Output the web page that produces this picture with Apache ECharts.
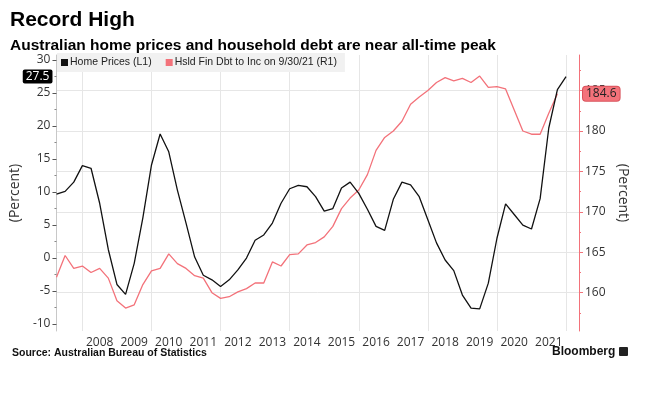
<!DOCTYPE html>
<html>
<head>
<meta charset="utf-8">
<script src="https://cdn.jsdelivr.net/npm/echarts@6/dist/echarts.min.js"></script>
<style>
html,body{margin:0;padding:0;background:#fff;}
#c{width:671px;height:393px;}
</style>
</head>
<body>
<div id="c"></div>
<script>
// ---- data ----
const quarters = [
 '2007Q1','2007Q2','2007Q3','2007Q4','2008Q1','2008Q2','2008Q3','2008Q4',
 '2009Q1','2009Q2','2009Q3','2009Q4','2010Q1','2010Q2','2010Q3','2010Q4',
 '2011Q1','2011Q2','2011Q3','2011Q4','2012Q1','2012Q2','2012Q3','2012Q4',
 '2013Q1','2013Q2','2013Q3','2013Q4','2014Q1','2014Q2','2014Q3','2014Q4',
 '2015Q1','2015Q2','2015Q3','2015Q4','2016Q1','2016Q2','2016Q3','2016Q4',
 '2017Q1','2017Q2','2017Q3','2017Q4','2018Q1','2018Q2','2018Q3','2018Q4',
 '2019Q1','2019Q2','2019Q3','2019Q4','2020Q1','2020Q2','2020Q3','2020Q4',
 '2021Q1','2021Q2','2021Q3','2021Q4'
];
const homePrices = [
 9.7,10.1,11.5,14.0,13.6,8.3,1.3,-4.0,-5.5,-0.8,6.1,14.1,18.8,16.1,10.3,5.3,
 0.15,-2.6,-3.3,-4.3,-3.3,-1.8,0.0,2.7,3.5,5.3,8.3,10.5,11.0,10.8,9.3,7.1,
 7.5,10.6,11.5,9.8,7.4,4.8,4.2,8.9,11.5,11.1,9.3,5.8,2.3,-0.3,-1.9,-5.6,
 -7.6,-7.7,-3.8,3.0,8.2,6.6,5.0,4.4,9.0,19.7,25.5,27.5
];
const debtToIncome = [
 161.9,164.6,163.0,163.3,162.5,163.0,161.8,159.0,158.1,158.5,161.0,162.7,163.0,164.8,163.6,163.0,
 162.1,161.8,160.0,159.3,159.5,160.1,160.5,161.2,161.2,163.8,163.3,164.7,164.8,165.9,166.2,166.9,
 168.2,170.4,171.7,172.7,174.6,177.6,179.2,180.0,181.2,183.3,184.2,185.0,186.0,186.6,186.2,186.5,
 186.0,186.8,185.4,185.5,185.2,182.6,180.0,179.6,179.6,182.2,184.6
];
const yearLabels = ['2008','2009','2010','2011','2012','2013','2014','2015','2016','2017','2018','2019','2020','2021'];
const gridYears = ['2007','2009','2011','2013','2015','2017','2019','2021'];
const leftTicks = [-10,-5,0,5,10,15,20,25,30];
const leftMinor = [-7.5,-2.5,2.5,7.5,12.5,17.5,22.5,27.5];
const rightTicks = [160,165,170,175,180,185];
const rightMinor = [157.5,162.5,167.5,172.5,177.5,182.5,187.5];

const seriesNames = ['Home Prices (L1)','Hsld Fin Dbt to Inc on 9/30/21 (R1)'];
const BLACK = '#111111', RED = '#f3727a';

const labelIdx = yearLabels.map(y => quarters.indexOf(y + 'Q2'));
const gridIdx = gridYears.map(y => quarters.indexOf(y + 'Q4'));
const lastHP = homePrices[homePrices.length - 1];
const lastDI = debtToIncome[debtToIncome.length - 1];

const FONT = "'Open Sans','Liberation Sans',sans-serif";
const chart = echarts.init(document.getElementById('c'), null, {renderer:'canvas'});
const xMax = quarters.length - 1 + 1.5;

chart.setOption({
  animation: false,
  backgroundColor: '#ffffff',
  textStyle: {fontFamily: FONT},
  title: {
    text: 'Record High',
    subtext: 'Australian home prices and household debt are near all-time peak',
    left: 10, top: 10, padding: 0, itemGap: 7,
    textStyle: {fontFamily: "'Liberation Sans',sans-serif", fontWeight: 'bold', fontSize: 21, color: '#000'},
    subtextStyle: {fontFamily: "'Liberation Sans',sans-serif", fontWeight: 'bold', fontSize: 15.5, color: '#000'}
  },
  legend: {
    left: 57, top: 53, padding: [4, 8, 4, 4],
    backgroundColor: '#f1f1f1',
    itemWidth: 7, itemHeight: 7, itemGap: 14,
    icon: 'rect',
    textStyle: {fontFamily: "'Liberation Sans',sans-serif", fontSize: 10.5, color: '#222', padding: [0,0,0,-3]},
    data: [{name: seriesNames[0], itemStyle: {color: BLACK}}, {name: seriesNames[1], itemStyle: {color: RED}}]
  },
  grid: {left: 56, right: 92, top: 55, bottom: 62, containLabel: false},
  xAxis: {
    type: 'value', min: 0, max: xMax,
    axisLine: {show: false},
    axisTick: {show: false, customValues: gridIdx},
    splitLine: {show: true, lineStyle: {color: '#e6e6e6', width: 1}},
    axisLabel: {customValues: labelIdx, formatter: v => quarters[v].slice(0,4), color: '#333', fontSize: 12, margin: 6}
  },
  yAxis: [
    {
      type: 'value', position: 'left', min: -11.05, max: 30.76,
      axisLine: {show: true, lineStyle: {color: '#c8c8c8'}},
      axisTick: {show: true, customValues: leftTicks, length: 4, lineStyle: {color: '#555'}},
      axisLabel: {customValues: leftTicks, color: '#333', fontSize: 12, margin: 6},
      splitLine: {show: false},
      name: '(Percent)', nameLocation: 'middle', nameGap: 23, nameRotate: 90,
      nameTextStyle: {fontSize: 14, color: '#333'},
      axisPointer: {show: true, type: 'line', value: lastHP, status: 'show', snap: false, triggerTooltip: false,
        lineStyle: {opacity: 0},
        label: {show: true, formatter: p => Number(p.value).toFixed(1), backgroundColor: '#000', color: '#fff', fontSize: 12, padding: [1, 3, 1, 3], margin: 4, borderRadius: 2}
      }
    },
    {
      type: 'value', position: 'right', min: 155.26, max: 189.40,
      axisLine: {show: true, lineStyle: {color: RED}},
      axisTick: {show: true, customValues: rightTicks, length: 4, lineStyle: {color: RED}},
      axisLabel: {customValues: rightTicks, color: '#333', fontSize: 12, margin: 6},
      splitLine: {show: true, lineStyle: {color: '#e6e6e6'}},
      name: '(Percent)', nameLocation: 'middle', nameGap: 36, nameRotate: -90,
      nameTextStyle: {fontSize: 14, color: '#333'},
      axisPointer: {show: true, type: 'line', value: lastDI, status: 'show', snap: false, triggerTooltip: false,
        lineStyle: {opacity: 0},
        label: {show: true, formatter: p => Number(p.value).toFixed(1), backgroundColor: RED, borderColor: '#d9525b', borderWidth: 1, color: '#222', fontSize: 12, padding: [1, 3, 1, 3], margin: 4}
      }
    },
    {
      type: 'value', position: 'left', min: -11.05, max: 30.76,
      axisLine: {show: false}, axisLabel: {show: false}, splitLine: {show: false},
      axisTick: {show: true, customValues: leftMinor, length: 2, lineStyle: {color: '#888'}}
    },
    {
      type: 'value', position: 'right', min: 155.26, max: 189.40,
      axisLine: {show: false}, axisLabel: {show: false}, splitLine: {show: false},
      axisTick: {show: true, customValues: rightMinor, length: 2, lineStyle: {color: RED}}
    }
  ],
  series: [
    {
      name: seriesNames[0], type: 'line', yAxisIndex: 0, symbol: 'none',
      lineStyle: {color: BLACK, width: 1.3}, itemStyle: {color: BLACK}, z: 3,
      data: homePrices.map((v, i) => [i, v])
    },
    {
      name: seriesNames[1], type: 'line', yAxisIndex: 1, symbol: 'none',
      lineStyle: {color: RED, width: 1.3}, itemStyle: {color: RED}, z: 2,
      data: debtToIncome.map((v, i) => [i, v])
    }
  ],
  graphic: [
    {type: 'text', left: 12, top: 348, style: {text: 'Source: Australian Bureau of Statistics', font: "bold 10.5px 'Liberation Sans',sans-serif", fill: '#111'}},
    {type: 'text', left: 552, top: 346, style: {text: 'Bloomberg', font: "bold 12px 'Liberation Sans',sans-serif", fill: '#111'}},
    {type: 'rect', left: 619, top: 347, shape: {width: 9, height: 9, r: 1}, style: {fill: '#222'}}
  ]
});
</script>
</body>
</html>
